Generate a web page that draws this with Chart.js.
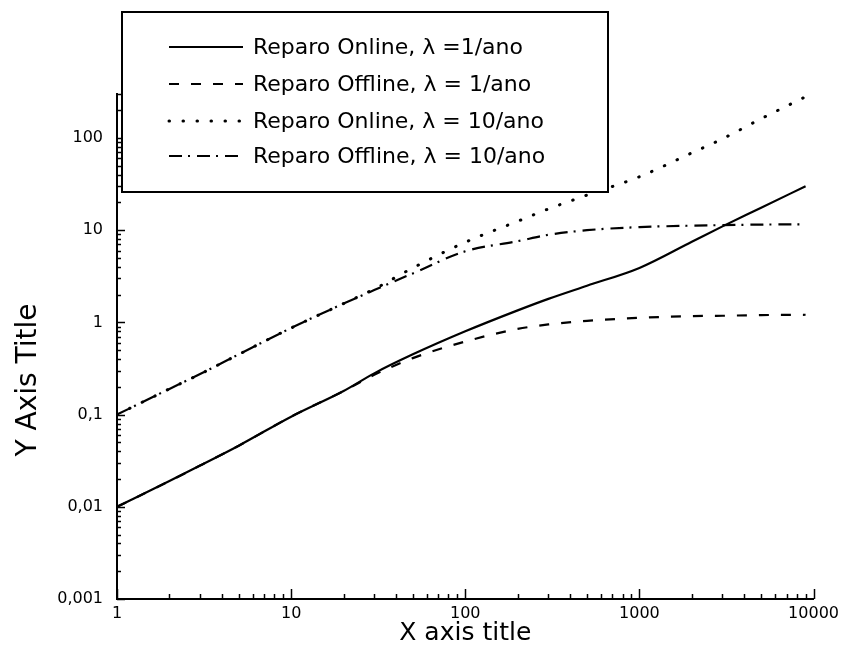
<!DOCTYPE html>
<html>
<head>
<meta charset="utf-8">
<script src="https://cdn.jsdelivr.net/npm/chart.js@4/dist/chart.umd.min.js"></script>
<style>
  html, body { margin: 0; padding: 0; background: #fff; }
  #wrap { width: 844px; height: 665px; position: relative; }
</style>
</head>
<body>
<div id="wrap"><canvas id="c" width="844" height="665"></canvas></div>
<script>
// Repair time (x) and unavailability-type response (y) for the four repair strategies
const repairTimes   = [1, 2, 3, 5, 10, 20, 30, 50, 100, 200, 300, 500, 1000, 2000, 3000, 5000, 9000];
const onlineRate1   = [0.01, 0.019, 0.028, 0.046, 0.095, 0.18, 0.28, 0.45, 0.8, 1.35, 1.8, 2.5, 3.9, 7.5, 11, 17.5, 30];
const offlineRate1  = [0.01, 0.019, 0.028, 0.046, 0.095, 0.18, 0.27, 0.41, 0.62, 0.85, 0.95, 1.04, 1.12, 1.17, 1.18, 1.2, 1.21];
const onlineRate10  = [0.1, 0.19, 0.275, 0.45, 0.87, 1.6, 2.3, 3.9, 7.4, 12.5, 17, 24, 38, 69, 98, 162, 280];
const offlineRate10 = [0.1, 0.19, 0.275, 0.45, 0.87, 1.6, 2.24, 3.4, 5.9, 7.6, 8.9, 10, 10.8, 11.2, 11.35, 11.5, 11.6];

const seriesLabels = [
  'Reparo Online, λ =1/ano',
  'Reparo Offline, λ = 1/ano',
  'Reparo Online, λ = 10/ano',
  'Reparo Offline, λ = 10/ano'
];

// Decade positions and their printed labels (comma as decimal separator)
const xDecades = [1, 10, 100, 1000, 10000];
const xTickLabels = ['1', '10', '100', '1000', '10000'];
const yDecades = [0.001, 0.01, 0.1, 1, 10, 100];
const yTickLabels = ['0,001', '0,01', '0,1', '1', '10', '100'];

const xTitle = 'X axis title';
const yTitle = 'Y Axis Title';

const FONT = '"DejaVu Sans", "Liberation Sans", Arial, sans-serif';

function toPoints(ys) {
  return repairTimes.map((x, i) => ({ x: x, y: ys[i] }));
}

function decadeLabel(value, decades, labels) {
  for (let i = 0; i < decades.length; i++) {
    if (Math.abs(value - decades[i]) / decades[i] < 1e-6) return labels[i];
  }
  return '';
}

// Inward tick marks on both axes (major at each decade, minor at 2..9)
const inwardTicks = {
  id: 'inwardTicks',
  afterDatasetsDraw(chart) {
    const { ctx, chartArea, scales } = chart;
    ctx.save();
    ctx.strokeStyle = '#000';
    ctx.lineWidth = 1.5;
    const xs = scales.x, ys = scales.y;
    for (let d = 0; d < xDecades.length; d++) {
      for (let m = 1; m <= 9; m++) {
        const v = xDecades[d] * m;
        if (v > xs.max * 1.0001) break;
        const px = Math.round(xs.getPixelForValue(v)) + 0.5;
        const len = m === 1 ? 10 : 5;
        ctx.beginPath();
        ctx.moveTo(px, chartArea.bottom);
        ctx.lineTo(px, chartArea.bottom - len);
        ctx.stroke();
      }
    }
    for (let d = 0; d < yDecades.length; d++) {
      for (let m = 1; m <= 9; m++) {
        const v = yDecades[d] * m;
        if (v > ys.max * 1.0001) break;
        const py = Math.round(ys.getPixelForValue(v)) + 0.5;
        const len = m === 1 ? 8 : 4;
        ctx.beginPath();
        ctx.moveTo(chartArea.left, py);
        ctx.lineTo(chartArea.left + len, py);
        ctx.stroke();
      }
    }
    ctx.restore();
  }
};

// Boxed legend in the upper-left, drawn from the datasets' own styles
const boxedLegend = {
  id: 'boxedLegend',
  afterDraw(chart) {
    const { ctx } = chart;
    const box = { x: 122, y: 12, w: 486, h: 180 };
    const rows = [47, 84, 121, 156];
    ctx.save();
    ctx.fillStyle = '#fff';
    ctx.fillRect(box.x, box.y, box.w, box.h);
    ctx.strokeStyle = '#000';
    ctx.lineWidth = 2;
    ctx.strokeRect(box.x, box.y, box.w, box.h);
    chart.data.datasets.forEach((ds, i) => {
      const y = rows[i];
      ctx.save();
      ctx.strokeStyle = ds.borderColor;
      ctx.lineWidth = ds.borderWidth;
      ctx.lineCap = ds.borderCapStyle || 'butt';
      ctx.setLineDash(ds.borderDash || []);
      ctx.beginPath();
      ctx.moveTo(169, y);
      ctx.lineTo(243, y);
      ctx.stroke();
      ctx.restore();
      ctx.fillStyle = '#000';
      ctx.font = '22px ' + FONT;
      ctx.textAlign = 'left';
      ctx.textBaseline = 'middle';
      ctx.fillText(ds.label, 253, y + 1);
    });
    ctx.restore();
  }
};

// Rotated y-axis title
const yAxisTitle = {
  id: 'yAxisTitle',
  afterDraw(chart) {
    const { ctx } = chart;
    ctx.save();
    ctx.translate(29, 380);
    ctx.rotate(-Math.PI / 2);
    ctx.fillStyle = '#000';
    ctx.font = '28px ' + FONT;
    ctx.textAlign = 'center';
    ctx.textBaseline = 'middle';
    ctx.fillText(yTitle, 0, 0);
    ctx.restore();
  }
};

const lineBase = {
  borderColor: '#000',
  backgroundColor: '#000',
  pointRadius: 0,
  fill: false,
  cubicInterpolationMode: 'monotone'
};

new Chart(document.getElementById('c'), {
  type: 'line',
  data: {
    datasets: [
      Object.assign({}, lineBase, { label: seriesLabels[0], data: toPoints(onlineRate1),  borderWidth: 2.2, borderDash: [] }),
      Object.assign({}, lineBase, { label: seriesLabels[1], data: toPoints(offlineRate1), borderWidth: 2.2, borderDash: [10, 12] }),
      Object.assign({}, lineBase, { label: seriesLabels[2], data: toPoints(onlineRate10), borderWidth: 3, borderDash: [0.5, 13.5], borderCapStyle: 'round' }),
      Object.assign({}, lineBase, { label: seriesLabels[3], data: toPoints(offlineRate10), borderWidth: 2.2, borderDash: [13, 6, 2, 7] })
    ]
  },
  options: {
    responsive: false,
    animation: false,
    devicePixelRatio: 1,
    layout: { padding: { top: 94, right: 26, left: 0, bottom: 0 } },
    plugins: {
      legend: { display: false },
      tooltip: { enabled: false }
    },
    scales: {
      x: {
        type: 'logarithmic',
        min: 1,
        max: 10000,
        afterFit(scale) { scale.height = 66; },
        border: { display: true, color: '#000', width: 2 },
        grid: { display: true, drawOnChartArea: false, drawTicks: false, color: 'rgba(0,0,0,0)' },
        ticks: {
          autoSkip: false,
          maxRotation: 0,
          minRotation: 0,
          padding: 5,
          color: '#000',
          font: { family: FONT, size: 16 },
          callback: (v) => decadeLabel(v, xDecades, xTickLabels)
        },
        title: {
          display: true,
          text: xTitle,
          color: '#000',
          font: { family: FONT, size: 25 },
          padding: { top: 0, bottom: 17 }
        }
      },
      y: {
        type: 'logarithmic',
        min: 0.001,
        max: 300,
        afterFit(scale) { scale.width = 117; },
        border: { display: true, color: '#000', width: 2 },
        grid: { display: true, drawOnChartArea: false, drawTicks: false, color: 'rgba(0,0,0,0)' },
        ticks: {
          autoSkip: false,
          padding: 14,
          color: '#000',
          font: { family: FONT, size: 16 },
          callback: (v) => decadeLabel(v, yDecades, yTickLabels)
        }
      }
    }
  },
  plugins: [inwardTicks, boxedLegend, yAxisTitle]
});
</script>
</body>
</html>
